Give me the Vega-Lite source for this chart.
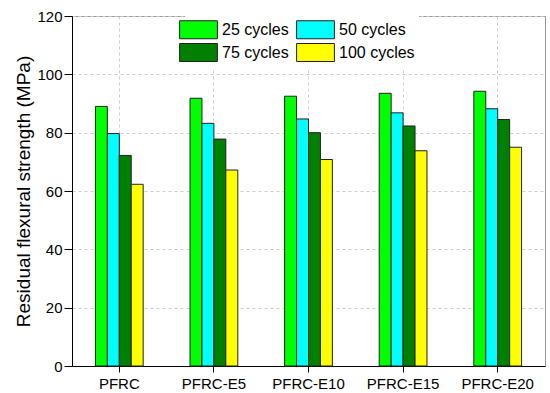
{
  "$schema": "https://vega.github.io/schema/vega-lite/v6.json",
  "width": 473,
  "height": 350,
  "autosize": {"type": "none"},
  "padding": {"left": 72, "top": 16, "right": 5, "bottom": 27},
  "background": "white",
  "config": {
    "font": "Liberation Sans",
    "view": {"stroke": "#999", "strokeWidth": 1}
  },
  "data": {
    "values": [
      {"group": "PFRC", "cycles": "25 cycles", "value": 89.0},
      {"group": "PFRC", "cycles": "50 cycles", "value": 79.7},
      {"group": "PFRC", "cycles": "75 cycles", "value": 72.2},
      {"group": "PFRC", "cycles": "100 cycles", "value": 62.3},
      {"group": "PFRC-E5", "cycles": "25 cycles", "value": 91.8},
      {"group": "PFRC-E5", "cycles": "50 cycles", "value": 83.2},
      {"group": "PFRC-E5", "cycles": "75 cycles", "value": 77.8},
      {"group": "PFRC-E5", "cycles": "100 cycles", "value": 67.2},
      {"group": "PFRC-E10", "cycles": "25 cycles", "value": 92.5},
      {"group": "PFRC-E10", "cycles": "50 cycles", "value": 84.7},
      {"group": "PFRC-E10", "cycles": "75 cycles", "value": 80.0},
      {"group": "PFRC-E10", "cycles": "100 cycles", "value": 70.8},
      {"group": "PFRC-E15", "cycles": "25 cycles", "value": 93.5},
      {"group": "PFRC-E15", "cycles": "50 cycles", "value": 86.8},
      {"group": "PFRC-E15", "cycles": "75 cycles", "value": 82.3},
      {"group": "PFRC-E15", "cycles": "100 cycles", "value": 73.8},
      {"group": "PFRC-E20", "cycles": "25 cycles", "value": 94.2},
      {"group": "PFRC-E20", "cycles": "50 cycles", "value": 88.2},
      {"group": "PFRC-E20", "cycles": "75 cycles", "value": 84.5},
      {"group": "PFRC-E20", "cycles": "100 cycles", "value": 75.0}
    ]
  },
  "mark": {"type": "bar", "stroke": "#222", "strokeWidth": 1},
  "encoding": {
    "x": {
      "field": "group",
      "type": "nominal",
      "sort": ["PFRC", "PFRC-E5", "PFRC-E10", "PFRC-E15", "PFRC-E20"],
      "scale": {"paddingInner": 0.495, "paddingOuter": 0.2475},
      "axis": {
        "title": null,
        "labelAngle": 0,
        "labelFontSize": 15,
        "labelColor": "#000",
        "labelPadding": 4,
        "domainColor": "#000",
        "tickColor": "#000",
        "tickSize": 6,
        "grid": true,
        "gridColor": "#ccc",
        "gridDash": [3, 3],
        "bandPosition": 0.5
      }
    },
    "xOffset": {
      "field": "cycles",
      "type": "nominal",
      "sort": ["25 cycles", "50 cycles", "75 cycles", "100 cycles"],
      "scale": {"paddingInner": 0, "paddingOuter": 0}
    },
    "y": {
      "field": "value",
      "type": "quantitative",
      "scale": {"domain": [0, 120], "nice": false},
      "axis": {
        "title": "Residual flexural strength (MPa)",
        "titleFontSize": 19,
        "titleFontWeight": "normal",
        "titleColor": "#000",
        "titlePadding": 3,
        "values": [0, 20, 40, 60, 80, 100, 120],
        "labelFontSize": 15,
        "labelColor": "#000",
        "labelPadding": 2,
        "domainColor": "#000",
        "tickColor": "#000",
        "tickSize": 8,
        "grid": true,
        "gridColor": "#ccc",
        "gridDash": [3, 3]
      }
    },
    "fill": {
      "field": "cycles",
      "type": "nominal",
      "sort": ["25 cycles", "50 cycles", "75 cycles", "100 cycles"],
      "scale": {
        "domain": ["25 cycles", "50 cycles", "75 cycles", "100 cycles"],
        "range": ["#00ff00", "#00ffff", "#008000", "#ffff00"]
      },
      "legend": {
        "title": null,
        "orient": "none",
        "legendX": 113,
        "legendY": 0,
        "columns": 2,
        "direction": "horizontal",
        "columnPadding": 5,
        "rowPadding": 0,
        "padding": 4,
        "fillColor": "white",
        "symbolType": "M-2.1,-1L2.1,-1L2.1,1L-2.1,1Z",
        "symbolSize": 324,
        "symbolStrokeColor": "#222",
        "symbolStrokeWidth": 1,
        "symbolOpacity": 1,
        "labelFontSize": 16,
        "labelColor": "#000",
        "labelOffset": 14
      }
    }
  }
}
